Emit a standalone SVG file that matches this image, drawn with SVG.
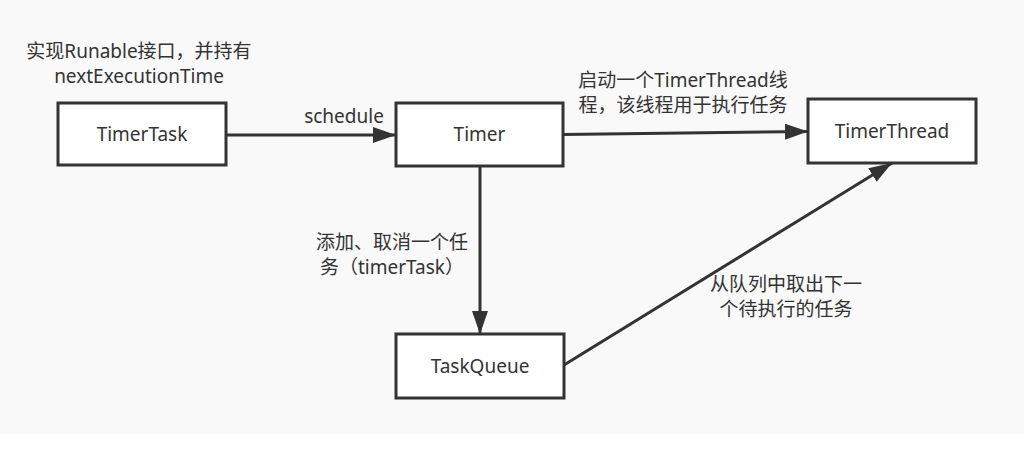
<svg xmlns="http://www.w3.org/2000/svg" width="1024" height="460" viewBox="0 0 1024 460">
  <style>
    .box { fill: #ffffff; stroke: #333333; stroke-width: 3; }
    .edge { fill: none; stroke: #333333; stroke-width: 3; }
    text { font-family: "Noto Sans", "Noto Sans CJK SC", sans-serif; font-size: 19px; fill: #333333; text-anchor: middle; }
  </style>
  <defs>
    <marker id="arrow" markerUnits="userSpaceOnUse" markerWidth="24" markerHeight="18" refX="23" refY="8" orient="auto">
      <path d="M0,0 L23,8 L0,16 Z" fill="#333333"/>
    </marker>
  </defs>
  <rect x="0" y="0" width="1024" height="434" fill="#f9f9f9"/>
  <rect x="0" y="434" width="1024" height="26" fill="#ffffff"/>

  <g id="connectors">
    <line class="edge" x1="226" y1="135" x2="396" y2="135" marker-end="url(#arrow)"/>
    <line class="edge" x1="563" y1="134.5" x2="808" y2="131.5" marker-end="url(#arrow)"/>
    <line class="edge" x1="480" y1="166" x2="480" y2="334" marker-end="url(#arrow)"/>
    <line class="edge" x1="564" y1="365" x2="892" y2="163" marker-end="url(#arrow)"/>
  </g>

  <g id="labels">
    <text x="139" y="58">实现Runable接口，并持有<tspan x="139" dy="25">nextExecutionTime</tspan></text>
    <text x="344" y="123">schedule</text>
    <text x="683" y="87">启动一个TimerThread线<tspan x="683" dy="25">程，该线程用于执行任务</tspan></text>
    <text x="392" y="249">添加、取消一个任<tspan x="392" dy="25">务（timerTask）</tspan></text>
    <text x="786" y="291">从队列中取出下一<tspan x="786" dy="25">个待执行的任务</tspan></text>
  </g>

  <g id="node-timertask">
    <rect class="box" x="58" y="103" width="168" height="62"/>
    <text x="142" y="141">TimerTask</text>
  </g>
  <g id="node-timer">
    <rect class="box" x="396" y="103" width="167" height="63"/>
    <text x="479.5" y="141">Timer</text>
  </g>
  <g id="node-timerthread">
    <rect class="box" x="808" y="99" width="168" height="64"/>
    <text x="892" y="138">TimerThread</text>
  </g>
  <g id="node-taskqueue">
    <rect class="box" x="396" y="334" width="168" height="64"/>
    <text x="480" y="373">TaskQueue</text>
  </g>
</svg>
